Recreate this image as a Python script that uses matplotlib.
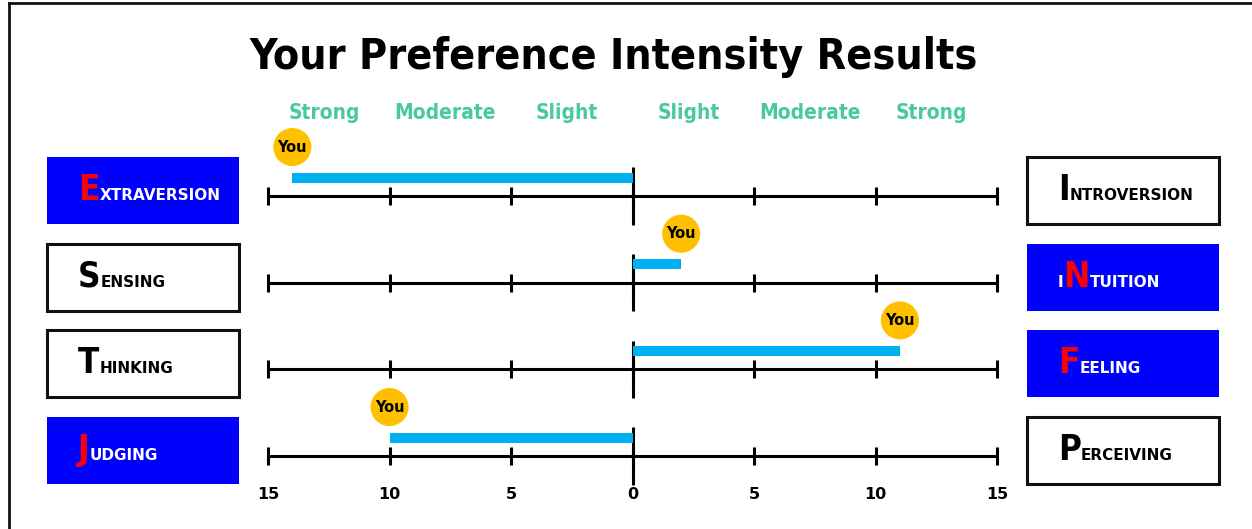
import matplotlib.pyplot as plt
from matplotlib.lines import Line2D
from matplotlib.patches import Rectangle

# Preference data: negative score = left-hand trait, positive = right-hand trait
left_traits = ["Extraversion", "Sensing", "Thinking", "Judging"]
right_traits = ["Introversion", "iNtuition", "Feeling", "Perceiving"]
scores = [-14, 2, 11, -10]

zone_names = ["Strong", "Moderate", "Slight", "Slight", "Moderate", "Strong"]
zone_centers = [-12.5, -7.5, -2.5, 2.5, 7.5, 12.5]
ticks = [-15, -10, -5, 0, 5, 10, 15]
tick_labels = ["15", "10", "5", "0", "5", "10", "15"]

BLUE = "#0000FF"
BAR = "#00B0F0"
GOLD = "#FFC000"
TEAL = "#48C9A0"
FONT = "DejaVu Sans"

W, H = 1252, 529
fig = plt.figure(figsize=(W / 100, H / 100), dpi=100)
ax = fig.add_axes([0, 0, 1, 1])
ax.set_xlim(-26.03, 25.49)
ax.set_ylim(3.842, -2.2615)
ax.axis("off")

# outer frame (only left and top edges are visible in the crop)
fig.add_artist(Line2D([9 / W, 9 / W], [0, 1 - 3 / H], transform=fig.transFigure,
                      color="#111111", lw=2))
fig.add_artist(Line2D([9 / W, 1], [1 - 3 / H, 1 - 3 / H], transform=fig.transFigure,
                      color="#111111", lw=2))

fig.text(614 / W, 1 - 57 / H, "Your Preference Intensity Results", ha="center",
         va="center", fontsize=30.8, fontweight="heavy", family=FONT,
         fontstretch="condensed")

for name, xc in zip(zone_names, zone_centers):
    ax.text(xc - 0.2, -0.958, name, ha="center", va="center", color=TEAL,
            fontsize=15, fontweight="bold", family=FONT, fontstretch="condensed")

for t, lab in zip(ticks, tick_labels):
    ax.text(t, 3.44, lab, ha="center", va="center", fontsize=11.5,
            fontweight="bold", family=FONT)

BOX_W = 7.9


def box_label(x0, row, word, selected):
    fill = BLUE if selected else "white"
    ax.add_patch(Rectangle((x0, row - 0.45), BOX_W, 0.773, facecolor=fill,
                           edgecolor=fill if selected else "#111111",
                           lw=0 if selected else 2.2, zorder=2))
    i = next(k for k, c in enumerate(word) if c.isupper())
    small_c = "white" if selected else "black"
    big_c = "red" if selected else "black"
    parts = [(word[:i].upper(), small_c, 11, "normal"),
             (word[i], big_c, 25, "condensed"),
             (word[i + 1:].upper(), small_c, 11, "normal")]
    y_base = row + 0.046
    prev = None
    for s, c, fs, stretch in parts:
        if not s:
            continue
        kw = dict(color=c, fontsize=fs, fontweight="bold", family=FONT,
                  fontstretch=stretch, va="baseline", ha="left", zorder=3)
        if prev is None:
            prev = ax.text(x0 + 1.27, y_base, s, **kw)
        else:
            prev = ax.annotate(s, xy=(1, y_base), xycoords=(prev, "data"), **kw)


for r, (lt, rt, sc) in enumerate(zip(left_traits, right_traits, scores)):
    # scale line, ticks and centre divider
    ax.plot([-15, 15], [r, r], color="black", lw=2.2, solid_capstyle="butt")
    ax.vlines(ticks, r - 0.105, r + 0.105, color="black", lw=2.2)
    ax.vlines(0, r - 0.33, r + 0.33, color="black", lw=2.2)

    # result bar and marker
    ax.barh(r - 0.21, sc, left=0, height=0.115, color=BAR, zorder=3)
    ax.scatter([sc], [r - 0.565], s=750, color=GOLD, edgecolors="none", zorder=4)
    ax.text(sc, r - 0.565, "You", ha="center", va="center", fontsize=10.5,
            fontweight="bold", family=FONT, zorder=5)

    box_label(-24.09, r, lt, sc < 0)
    box_label(16.23, r, rt, sc > 0)

fig.savefig("out.png", dpi=100)
